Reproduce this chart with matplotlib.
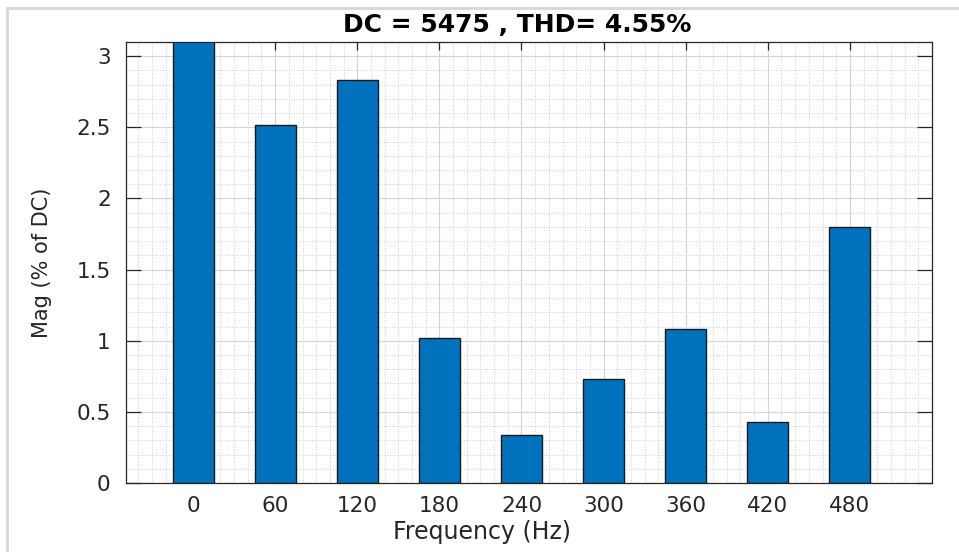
import matplotlib
matplotlib.use("Agg")
from matplotlib import pyplot as plt
from matplotlib.ticker import MultipleLocator
from matplotlib.lines import Line2D

# harmonic spectrum, magnitude in % of DC
freqs = [0, 60, 120, 180, 240, 300, 360, 420, 480]
mags = [100, 2.52, 2.83, 1.02, 0.34, 0.73, 1.085, 0.43, 1.80]
title = "DC = 5475 , THD= 4.55%"

plt.rcParams['font.family'] = ['DejaVu Sans']

W, H = 959, 552
fig = plt.figure(figsize=(W / 100, H / 100), dpi=100)
ax = fig.add_axes([126 / W, 1 - 483 / H, (932 - 126) / W, (483 - 42) / H])

ax.bar(freqs, mags, width=30, color='#0072BD', edgecolor='#1a1a1a', linewidth=1.0, zorder=2)

ax.set_xlim(-49, 540)
ax.set_ylim(0, 3.1)
ax.set_xticks(freqs)
ax.set_yticks([0, 0.5, 1, 1.5, 2, 2.5, 3])
ax.set_yticklabels(['0', '0.5', '1', '1.5', '2', '2.5', '3'])
ax.xaxis.set_minor_locator(MultipleLocator(10))
ax.yaxis.set_minor_locator(MultipleLocator(0.1))

ax.set_axisbelow(True)
ax.grid(which='major', color='#d4d4d4', linewidth=0.8, linestyle='-')
ax.grid(which='minor', color='#cfcfcf', linewidth=0.7, linestyle=':')

ax.tick_params(which='both', direction='in', top=True, right=True, colors='#262626',
               labelsize=15.5)
ax.tick_params(axis='x', which='major', length=6, pad=9, width=0.9)
ax.tick_params(axis='y', which='major', length=11, pad=11, width=0.9)
ax.tick_params(which='minor', length=0)
for s in ax.spines.values():
    s.set_color('#262626')
    s.set_linewidth(0.9)

ax.set_title(title, fontsize=18, fontweight='bold', color='black', pad=7,
             x=(517 - 126) / (932 - 126))
ax.set_xlabel("Frequency (Hz)", fontsize=17, color='#262626')
ax.xaxis.set_label_coords((482 - 126) / (932 - 126), -(520 - 483) / (483 - 42))
ax.set_ylabel("Mag (% of DC)", fontsize=15, color='#262626')
ax.yaxis.set_label_coords(-(126 - 52) / (932 - 126), 0.5)

# light frame around the figure
fig.add_artist(Line2D([7 / W, 7 / W], [0, 1 - 8 / H], transform=fig.transFigure,
                      color='#d6d6d6', linewidth=2))
fig.add_artist(Line2D([7 / W, 1], [1 - 8 / H, 1 - 8 / H], transform=fig.transFigure,
                      color='#d6d6d6', linewidth=2))

fig.savefig("out.png", dpi=100, facecolor='white')
